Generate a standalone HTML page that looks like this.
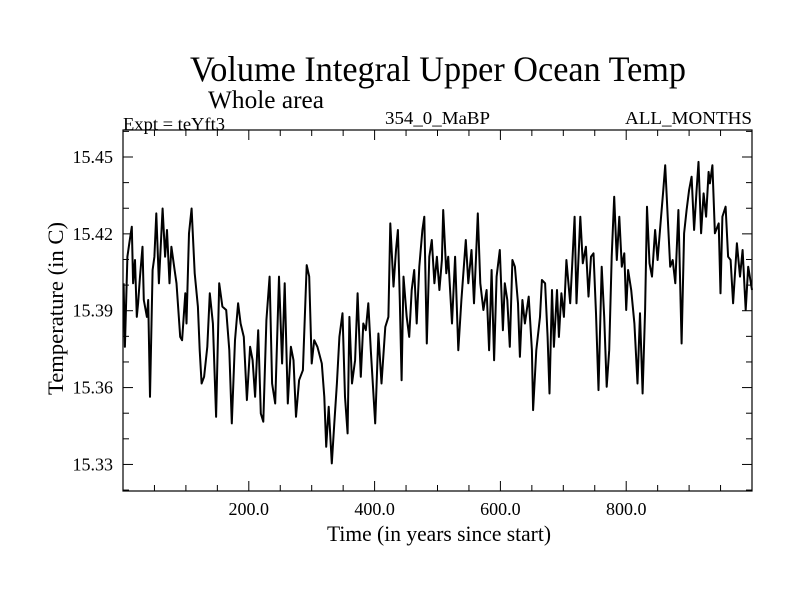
<!DOCTYPE html>
<html><head><meta charset="utf-8"><style>
html,body{margin:0;padding:0;background:#fff;}
svg{display:block;font-family:"Liberation Serif",serif;}
</style></head><body>
<svg id="chart" width="800" height="600" viewBox="0 0 800 600" xmlns="http://www.w3.org/2000/svg">
<rect width="800" height="600" fill="#fff"/>
<text x="190" y="81" font-size="36" textLength="496" lengthAdjust="spacingAndGlyphs">Volume Integral Upper Ocean Temp</text>
<text x="208" y="108" font-size="25" textLength="116" lengthAdjust="spacingAndGlyphs">Whole area</text>
<text x="123" y="130" font-size="18" textLength="102" lengthAdjust="spacingAndGlyphs">Expt = teYft3</text>
<text x="385" y="124" font-size="18" textLength="105" lengthAdjust="spacingAndGlyphs">354_0_MaBP</text>
<text x="625" y="124" font-size="18" textLength="127" lengthAdjust="spacingAndGlyphs">ALL_MONTHS</text>
<g id="axes"></g>
<g id="series"></g>
<text transform="translate(63,395) rotate(-90)" font-size="22" textLength="173" lengthAdjust="spacingAndGlyphs">Temperature (in C)</text>
<text x="327" y="541" font-size="22" textLength="224" lengthAdjust="spacingAndGlyphs">Time (in years since start)</text>
</svg>
<script>
const years = [1,3,7,10,14,16,19,22,24,27,31,33,38,40,43,47,50,53,57,63,67,70,74,77,82,85,91,94,99,101,105,109,114,119,122,125,129,134,138,143,148,153,158,164,169,173,178,183,187,192,197,202,206,210,215,219,223,228,233,237,242,248,253,257,262,267,271,275,280,286,292,296,300,304,309,316,320,323,327,332,
336,340,344,349,353,357,360,364,369,373,378,382,386,390,394,401,406,411,417,422,425,430,434,437,440,443,446,451,455,459,463,467,471,476,479,483,487,491,495,499,503,507,509,514,517,523,528,533,538,545,549,554,558,561,564,568,573,578,582,586,590,594,599,604,607,611,615,619,623,628,631,635,639,645,650,652,657,
663,666,671,675,678,682,685,690,693,697,701,705,711,714,718,721,727,731,736,740,744,748,752,756,761,765,769,773,777,781,785,789,793,797,800,803,808,813,818,822,826,830,833,837,841,846,850,855,859,862,866,870,874,878,883,888,892,896,900,904,908,912,915,919,923,927,931,933,937,941,947,950,953,958,962,966,970,976,981,985,990,994,1000];
const temps = [15.4007,15.3759,15.4111,15.4163,15.4228,15.4007,15.4098,15.3876,15.3929,15.4033,15.4150,15.3942,15.3876,15.3942,15.3564,15.4059,15.4111,15.4280,15.4007,15.4299,15.4111,15.4215,15.4007,15.4150,15.4059,15.4007,15.3798,15.3785,15.3968,15.3850,15.4202,15.4299,15.4046,15.3916,15.3746,15.3616,15.3642,15.3759,15.3968,15.3850,15.3486,15.4007,15.3916,15.3903,15.3746,15.3460,15.3785,15.3929,15.3850,15.3798,15.3551,15.3759,15.3707,15.3564,15.3824,15.3499,15.3467,15.3863,15.4033,15.3616,15.3538,15.4033,15.3694,15.4007,15.3538,15.3759,15.3707,15.3486,15.3629,15.3668,15.4078,15.4033,15.3694,15.3785,15.3759,15.3694,15.3564,15.3369,15.3525,15.3304,
15.3460,15.3616,15.3798,15.3890,15.3564,15.3421,15.3876,15.3616,15.3707,15.3968,15.3642,15.3850,15.3824,15.3929,15.3746,15.3460,15.3811,15.3616,15.3837,15.3876,15.4241,15.3994,15.4137,15.4215,15.3942,15.3629,15.4033,15.3876,15.3798,15.3981,15.4059,15.3850,15.4072,15.4215,15.4267,15.3772,15.4111,15.4176,15.4007,15.4111,15.3981,15.4098,15.4293,15.4046,15.4111,15.3850,15.4111,15.3746,15.3942,15.4176,15.4007,15.4137,15.3929,15.4098,15.4280,15.4007,15.3903,15.3981,15.3746,15.4059,15.3707,15.4033,15.4137,15.3824,15.4007,15.3942,15.3759,15.4098,15.4072,15.3929,15.3720,15.3942,15.3850,15.3955,15.3746,15.3512,15.3746,
15.3876,15.4020,15.4007,15.3798,15.3577,15.3981,15.3759,15.3981,15.3798,15.3968,15.3876,15.4098,15.3929,15.4072,15.4267,15.3929,15.4267,15.4085,15.4150,15.3955,15.4111,15.4124,15.3890,15.3590,15.4072,15.3876,15.3603,15.3746,15.4111,15.4345,15.4098,15.4267,15.4072,15.4124,15.3903,15.4059,15.3981,15.3850,15.3616,15.3890,15.3577,15.3903,15.4306,15.4085,15.4033,15.4215,15.4098,15.4254,15.4371,15.4468,15.4267,15.4072,15.4098,15.4007,15.4293,15.3772,15.4202,15.4293,15.4371,15.4423,15.4215,15.4371,15.4481,15.4202,15.4358,15.4267,15.4442,15.4397,15.4468,15.4202,15.4241,15.3968,15.4267,15.4306,15.4111,15.4098,15.3929,15.4163,15.4033,15.4137,15.3903,15.4072,15.3981];
const xTicks = [200,400,600,800];
const xTickLabels = ["200.0","400.0","600.0","800.0"];
const yTicks = [15.33,15.36,15.39,15.42,15.45];
const yTickLabels = ["15.33","15.36","15.39","15.42","15.45"];

const L=123,R=752,T=130,B=491;
const X0=0,X1=1000;
const sx=v=>L+(v-X0)/(X1-X0)*(R-L);
const sy=v=>157+(15.45-v)*2562;
const NS='http://www.w3.org/2000/svg';
const axes=document.getElementById('axes');
function mk(tag,attrs,parent){const e=document.createElementNS(NS,tag);for(const k in attrs)e.setAttribute(k,attrs[k]);parent.appendChild(e);return e;}
const frame=mk('rect',{x:L,y:T,width:R-L,height:B-T,fill:'none',stroke:'#000','stroke-width':1.2},axes);


for(let v=50;v<X1;v+=50){
  const major=v%200===0;const len=major?10:6;const x=sx(v);
  const t1=mk('line',{x1:x,x2:x,y1:B,y2:B-len,stroke:'#000','stroke-width':1},axes);
  
  
  const t2=mk('line',{x1:x,x2:x,y1:T,y2:T+len,stroke:'#000','stroke-width':1},axes);
  
  
}
xTicks.forEach((v,i)=>{
  const t=mk('text',{x:sx(v),y:515,'font-size':18,'text-anchor':'middle'},axes);
  t.textContent=xTickLabels[i];
  
  
});
for(let k=0;k<=14;k++){
  const v=15.32+k*0.01;const y=sy(v);if(y<T-0.5||y>B+0.5)continue;
  const major=Math.abs(((v-15.33)/0.03)-Math.round((v-15.33)/0.03))<1e-6;const len=major?10:6;
  const a=mk('line',{x1:L,x2:L+len,y1:y,y2:y,stroke:'#000','stroke-width':1},axes);
  
  
  const b=mk('line',{x1:R,x2:R-len,y1:y,y2:y,stroke:'#000','stroke-width':1},axes);
  
  
}
yTicks.forEach((v,i)=>{
  const t=mk('text',{x:113,y:sy(v)+6,'font-size':18,'text-anchor':'end'},axes);
  t.textContent=yTickLabels[i];
  
  
});
const series=document.getElementById('series');
let d='';
years.forEach((yr,i)=>{d+=(i?'L':'M')+sx(yr).toFixed(1)+','+sy(temps[i]).toFixed(1);});
const line=mk('path',{d:d,fill:'none',stroke:'#000','stroke-width':2,'stroke-linejoin':'round'},series);


</script>
</body></html>
